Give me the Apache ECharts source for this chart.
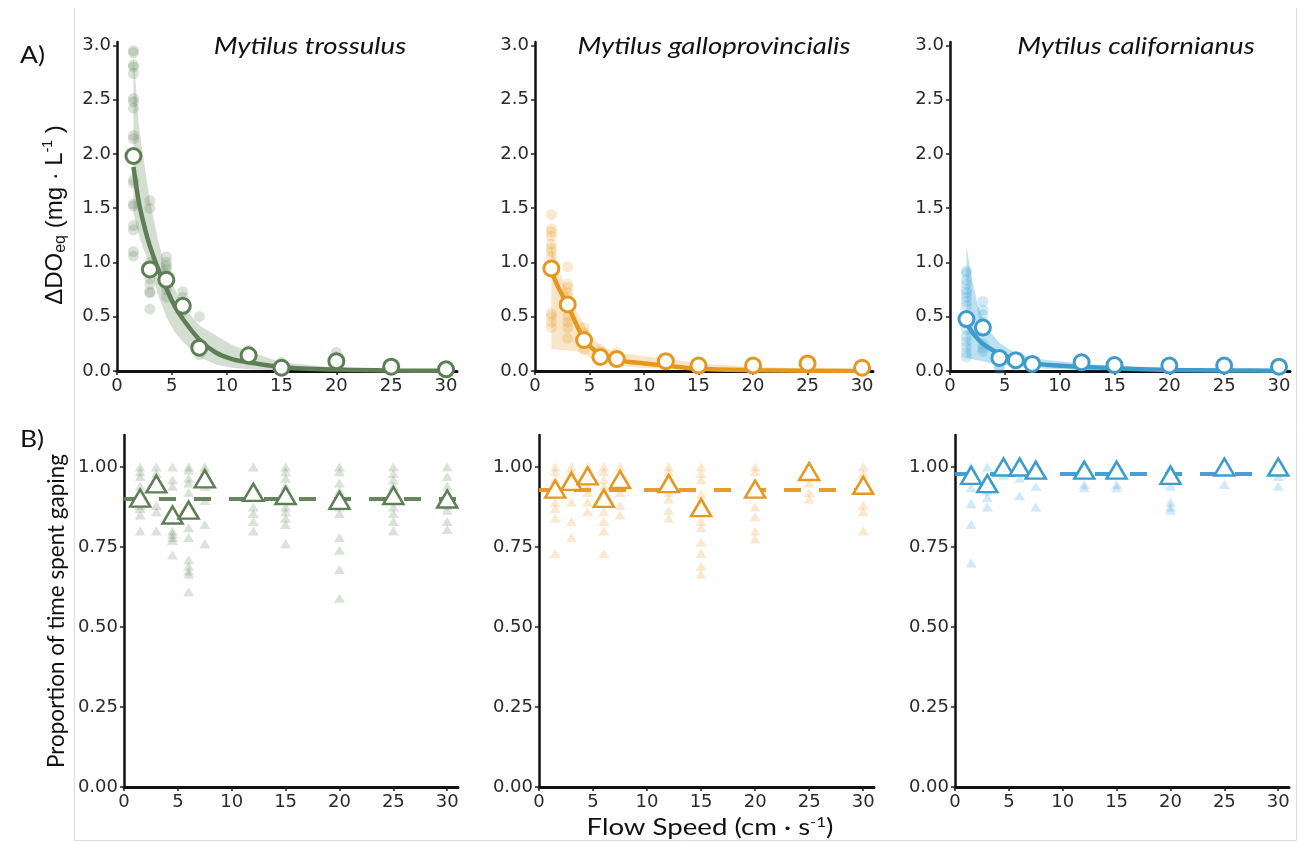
<!DOCTYPE html>
<html><head><meta charset="utf-8">
<script src="https://cdn.jsdelivr.net/npm/echarts@6/dist/echarts.min.js"></script>
<style>html,body{margin:0;padding:0;background:#fff}#c{width:1297px;height:843px}</style>
</head><body><div id="c"></div>
<script>
// ---------- data ----------
const flowSpeeds = [1.5, 3, 4.5, 6, 7.5, 12, 15, 20, 25, 30];
const fitSpeeds = [1.5, 2, 2.5, 3, 3.75, 4.5, 5.25, 6, 7.5, 9, 10.5, 12, 15, 20, 25, 30];
const speciesNames = ['Mytilus trossulus', 'Mytilus galloprovincialis', 'Mytilus californianus'];
const speedTicks = [0, 5, 10, 15, 20, 25, 30];
const doTicks = [0, 0.5, 1, 1.5, 2, 2.5, 3];
const gapeTicks = [0, 0.25, 0.5, 0.75, 1];

// A) ΔDOeq raw observations, one list per flow speed
const trossulusDO = [
  [2.95, 2.93, 2.82, 2.8, 2.74, 2.51, 2.48, 2.42, 2.17, 2.14, 1.76, 1.73, 1.54, 1.52, 1.34, 1.3, 1.1, 1.06],
  [1.57, 1.5, 1.0, 0.95, 0.9, 0.85, 0.8, 0.73, 0.72, 0.57],
  [1.05, 1.0, 0.97, 0.94, 0.9, 0.75, 0.68],
  [0.73, 0.68, 0.62, 0.55],
  [0.5, 0.25, 0.2, 0.15],
  [0.19, 0.16, 0.12, 0.1],
  [0.08, 0.05, 0.03, 0.02],
  [0.17, 0.13, 0.1, 0.07, 0.05],
  [0.06, 0.04, 0.02],
  [0.03, 0.02, 0.01]
];
const galloDO = [
  [1.44, 1.31, 1.28, 1.24, 1.17, 1.13, 1.1, 1.05, 0.53, 0.5, 0.45, 0.4],
  [0.96, 0.8, 0.77, 0.72, 0.68, 0.5, 0.45, 0.4, 0.3],
  [0.4, 0.35, 0.3, 0.25, 0.2],
  [0.2, 0.15, 0.12, 0.1],
  [0.17, 0.12, 0.1],
  [0.12, 0.1, 0.08],
  [0.06, 0.04],
  [0.06, 0.04],
  [0.1, 0.07, 0.05],
  [0.04, 0.03]
];
const californianusDO = [
  [0.92, 0.9, 0.84, 0.8, 0.75, 0.72, 0.68, 0.64, 0.6, 0.38, 0.32, 0.27, 0.22, 0.17, 0.13],
  [0.64, 0.56, 0.52, 0.45, 0.25, 0.21, 0.18],
  [0.1, 0.05, 0.02],
  [0.08, 0.05],
  [0.05],
  [0.1, 0.08],
  [0.06],
  [0.05],
  [0.05],
  [0.05]
];
// A) means per flow speed
const trossulusDOMean = [1.98, 0.935, 0.84, 0.60, 0.215, 0.145, 0.03, 0.09, 0.04, 0.015];
const galloDOMean = [0.945, 0.613, 0.285, 0.13, 0.11, 0.09, 0.05, 0.05, 0.07, 0.03];
const californianusDOMean = [0.478, 0.40, 0.12, 0.10, 0.065, 0.08, 0.055, 0.05, 0.05, 0.04];
// A) fitted curve and its confidence band (at fitSpeeds)
const trossulusFit = [1.88, 1.55, 1.33, 1.15, 0.94, 0.76, 0.60, 0.48, 0.29, 0.17, 0.11, 0.08, 0.035, 0.013, 0.005, 0.002];
const trossulusUpper = [2.92, 2.25, 1.9, 1.57, 1.2, 0.92, 0.76, 0.6, 0.42, 0.33, 0.24, 0.18, 0.08, 0.03, 0.015, 0.01];
const trossulusLower = [1.45, 1.25, 1.1, 0.97, 0.7, 0.5, 0.36, 0.27, 0.13, 0.06, 0.03, 0.015, 0.005, 0, 0, 0];
const galloFit = [0.92, 0.80, 0.70, 0.61, 0.44, 0.29, 0.21, 0.15, 0.10, 0.08, 0.065, 0.05, 0.02, 0.008, 0.003, 0.001];
const galloUpper = [1.15, 0.98, 0.85, 0.72, 0.56, 0.43, 0.31, 0.23, 0.17, 0.15, 0.13, 0.12, 0.07, 0.04, 0.02, 0.015];
const galloLower = [0.20, 0.20, 0.19, 0.19, 0.18, 0.16, 0.11, 0.08, 0.05, 0.035, 0.025, 0.02, 0.005, 0, 0, 0];
const californianusFit = [0.44, 0.36, 0.30, 0.25, 0.20, 0.16, 0.13, 0.10, 0.07, 0.055, 0.045, 0.04, 0.025, 0.01, 0.005, 0.002];
const californianusUpper = [1.15, 0.85, 0.62, 0.48, 0.35, 0.26, 0.21, 0.17, 0.12, 0.10, 0.085, 0.07, 0.045, 0.025, 0.015, 0.01];
const californianusLower = [0.12, 0.11, 0.10, 0.09, 0.07, 0.06, 0.05, 0.04, 0.03, 0.02, 0.015, 0.01, 0.005, 0, 0, 0];

// B) proportion of time gaping, raw per flow speed
const trossulusGape = [
  [1.0, 0.985, 0.97, 0.94, 0.92, 0.88, 0.87, 0.85, 0.80],
  [1.0, 0.98, 0.88, 0.86, 0.80],
  [1.0, 0.96, 0.94, 0.80, 0.79, 0.78, 0.77, 0.725],
  [1.0, 0.99, 0.965, 0.95, 0.92, 0.81, 0.78, 0.71, 0.69, 0.675, 0.665, 0.61],
  [1.0, 0.99, 0.94, 0.895, 0.82, 0.76],
  [1.0, 0.94, 0.875, 0.855, 0.83, 0.80],
  [1.0, 0.985, 0.965, 0.94, 0.92, 0.875, 0.86, 0.84, 0.82, 0.76],
  [1.0, 0.985, 0.95, 0.925, 0.875, 0.855, 0.78, 0.74, 0.68, 0.59],
  [1.0, 0.98, 0.96, 0.94, 0.875, 0.855, 0.83, 0.80],
  [1.0, 0.97, 0.94, 0.88, 0.865, 0.83, 0.805]
];
const galloGape = [
  [1.0, 0.985, 0.96, 0.935, 0.925, 0.89, 0.87, 0.84, 0.73],
  [1.0, 0.985, 0.97, 0.935, 0.89, 0.83, 0.78],
  [1.0, 0.985, 0.96, 0.935, 0.92, 0.89, 0.86],
  [1.0, 0.985, 0.96, 0.94, 0.925, 0.885, 0.86, 0.83, 0.80, 0.73],
  [1.0, 0.98, 0.935, 0.92, 0.88, 0.85],
  [1.0, 0.985, 0.92, 0.90, 0.865, 0.84],
  [1.0, 0.98, 0.96, 0.915, 0.83, 0.81, 0.765, 0.73, 0.69, 0.665],
  [1.0, 0.985, 0.875, 0.845, 0.80, 0.775],
  [0.95, 0.92, 0.90],
  [1.0, 0.98, 0.935, 0.88, 0.86, 0.80]
];
const californianusGape = [
  [1.0, 0.98, 0.935, 0.885, 0.82, 0.70],
  [1.0, 0.925, 0.905, 0.875],
  [1.0, 0.975],
  [0.965, 0.91],
  [0.94, 0.875],
  [0.945, 0.935],
  [0.945, 0.935],
  [1.0, 0.94, 0.89, 0.875, 0.865],
  [0.945],
  [0.97, 0.94]
];
const trossulusGapeMean = [0.903, 0.947, 0.85, 0.865, 0.963, 0.921, 0.911, 0.896, 0.911, 0.90];
const galloGapeMean = [0.931, 0.955, 0.972, 0.902, 0.961, 0.948, 0.873, 0.931, 0.986, 0.943];
const californianusGapeMean = [0.974, 0.948, 1.0, 1.0, 0.99, 0.99, 0.99, 0.974, 1.0, 1.0];
const overallGape = [0.90, 0.933, 0.982];

// ---------- styling ----------
const colors = ['#5e7f55', '#e6971f', '#3d9ccb'];
const bandColors = ['rgba(94,127,85,0.26)', 'rgba(230,151,31,0.25)', 'rgba(80,175,220,0.38)'];
const rawColors = ['rgba(94,127,85,0.28)', 'rgba(230,151,31,0.27)', 'rgba(70,170,215,0.3)'];
const rawDO = [trossulusDO, galloDO, californianusDO];
const meanDO = [trossulusDOMean, galloDOMean, californianusDOMean];
const fits = [trossulusFit, galloFit, californianusFit];
const uppers = [trossulusUpper, galloUpper, californianusUpper];
const lowers = [trossulusLower, galloLower, californianusLower];
const rawGape = [trossulusGape, galloGape, californianusGape];
const meanGape = [trossulusGapeMean, galloGapeMean, californianusGapeMean];

const tickFont = 'DejaVu Sans';
const grids = [
  {left: 117, top: 42, width: 340, height: 329},
  {left: 535, top: 42, width: 338, height: 329},
  {left: 950, top: 42, width: 340, height: 329},
  {left: 124, top: 435, width: 334, height: 352},
  {left: 539, top: 435, width: 335, height: 352},
  {left: 955, top: 435, width: 334, height: 352}
];

function xAxisDef(i) {
  return {
    type: 'value', gridIndex: i, min: 0, max: 31,
    axisLine: {show: true, onZero: false, lineStyle: {color: '#111', width: 3}},
    axisTick: {show: true, length: 4, lineStyle: {color: '#222', width: 1.5}, customValues: speedTicks},
    axisLabel: {fontFamily: tickFont, fontSize: 18, color: '#2a2a2a', margin: 6, customValues: speedTicks},
    splitLine: {show: false}
  };
}
function yAxisDef(i, top) {
  const ticks = top ? doTicks : gapeTicks;
  return {
    type: 'value', gridIndex: i, min: 0, max: top ? 3.03 : 1.1,
    axisLine: {show: true, onZero: false, lineStyle: {color: '#111', width: 2.5}},
    axisTick: {show: true, length: 4, lineStyle: {color: '#222', width: 1.5}, customValues: ticks},
    axisLabel: {fontFamily: tickFont, fontSize: 18, color: '#2a2a2a', margin: 6, customValues: ticks,
      formatter: v => top ? v.toFixed(1) : v.toFixed(2)},
    splitLine: {show: false}
  };
}

const xAxes = [], yAxes = [], series = [];
for (let i = 0; i < 6; i++) { xAxes.push(xAxisDef(i)); yAxes.push(yAxisDef(i, i < 3)); }

for (let s = 0; s < 3; s++) {
  const c = colors[s];
  // confidence band as a polygon through the axis scales
  series.push({
    type: 'custom', xAxisIndex: s, yAxisIndex: s, silent: true, z: 1,
    data: [[fitSpeeds[0], lowers[s][0]]],
    renderItem: (params, api) => {
      const pts = [];
      fitSpeeds.forEach((x, k) => pts.push(api.coord([x, uppers[s][k]])));
      for (let k = fitSpeeds.length - 1; k >= 0; k--) pts.push(api.coord([fitSpeeds[k], lowers[s][k]]));
      return {type: 'polygon', shape: {points: pts}, style: {fill: bandColors[s], stroke: null}};
    }
  });
  // raw points
  const raw = [];
  flowSpeeds.forEach((x, k) => rawDO[s][k].forEach(v => raw.push([x, v])));
  series.push({
    type: 'scatter', xAxisIndex: s, yAxisIndex: s, symbol: 'circle', symbolSize: 11, z: 2,
    itemStyle: {color: rawColors[s]}, data: raw
  });
  // fit line
  series.push({
    type: 'line', xAxisIndex: s, yAxisIndex: s, symbol: 'none', smooth: 0.3, z: 3,
    lineStyle: {color: c, width: 4.5}, data: fitSpeeds.map((x, k) => [x, fits[s][k]])
  });
  // means
  series.push({
    type: 'scatter', xAxisIndex: s, yAxisIndex: s, symbol: 'circle', symbolSize: 15, z: 4,
    itemStyle: {color: '#fff', borderColor: c, borderWidth: 3, opacity: 1},
    data: flowSpeeds.map((x, k) => [x, meanDO[s][k]])
  });

  // B panels
  const g = s + 3;
  const rawG = [];
  flowSpeeds.forEach((x, k) => rawGape[s][k].forEach(v => rawG.push([x, v])));
  series.push({
    type: 'scatter', xAxisIndex: g, yAxisIndex: g, symbol: 'triangle', symbolSize: [11, 9], z: 2,
    itemStyle: {color: rawColors[s]}, data: rawG,
    markLine: {
      silent: true, symbol: 'none', z: 3, label: {show: false},
      lineStyle: {color: c, width: 4, type: [17, 18], opacity: 0.95},
      data: [{yAxis: overallGape[s]}]
    }
  });
  series.push({
    type: 'scatter', xAxisIndex: g, yAxisIndex: g, symbol: 'triangle', symbolSize: [20, 17], z: 10,
    itemStyle: {color: '#fff', borderColor: c, borderWidth: 2.5, opacity: 1},
    data: flowSpeeds.map((x, k) => [x, meanGape[s][k]])
  });
}

const titleX = [310, 714, 1136];
const graphic = [
  {type: 'line', shape: {x1: 74.5, y1: 8, x2: 74.5, y2: 840.5}, style: {stroke: '#dcdcdc', lineWidth: 1}, silent: true},
  {type: 'line', shape: {x1: 74.5, y1: 840.5, x2: 1296.5, y2: 840.5}, style: {stroke: '#dcdcdc', lineWidth: 1}, silent: true},
  {type: 'line', shape: {x1: 1296.5, y1: 8, x2: 1296.5, y2: 840.5}, style: {stroke: '#dcdcdc', lineWidth: 1}, silent: true},
  {type: 'text', x: 20, y: 56, scaleX: 1.15, style: {text: 'A)', font: '23px Lato', fill: '#111', verticalAlign: 'middle'}},
  {type: 'text', x: 20, y: 440, scaleX: 1.15, style: {text: 'B)', font: '23px Lato', fill: '#111', verticalAlign: 'middle'}},
  {type: 'text', x: 55, y: 215, rotation: Math.PI / 2,
    style: {
      text: '{b|ΔDO}{s|eq}{b| (mg · L}{p|-1}{b| )}', align: 'center', verticalAlign: 'middle', fill: '#111',
      rich: {
        b: {fontFamily: 'Liberation Sans', fontSize: 24, lineHeight: 28, fill: '#111'},
        s: {fontFamily: 'Liberation Sans', fontSize: 16, lineHeight: 12, verticalAlign: 'bottom', fill: '#111'},
        p: {fontFamily: 'Liberation Sans', fontSize: 14, lineHeight: 12, verticalAlign: 'top', fill: '#111'}
      }
    }},
  {type: 'text', x: 57, y: 611, rotation: Math.PI / 2,
    style: {text: 'Proportion of time spent gaping', font: '22.5px Lato', fill: '#111', align: 'center', verticalAlign: 'middle'}},
  {type: 'text', x: 710, y: 828, scaleX: 1.2,
    style: {
      text: '{b|Flow Speed (cm · s}{p|-1}{b|)}', align: 'center', verticalAlign: 'middle',
      rich: {
        b: {fontFamily: 'Lato', fontSize: 23, lineHeight: 26, fill: '#111'},
        p: {fontFamily: 'Lato', fontSize: 14, lineHeight: 12, verticalAlign: 'top', fill: '#111'}
      }
    }}
];
speciesNames.forEach((n, i) => graphic.push({
  type: 'text', x: titleX[i], y: 47, scaleX: 1.2,
  style: {text: n, font: 'italic 23px Lato', fill: '#111', align: 'center', verticalAlign: 'middle'}
}));

const chart = echarts.init(document.getElementById('c'), null, {renderer: 'canvas'});
chart.setOption({
  animation: false,
  backgroundColor: '#fff',
  grid: grids,
  xAxis: xAxes,
  yAxis: yAxes,
  series: series,
  graphic: graphic
});
</script>
</body></html>
